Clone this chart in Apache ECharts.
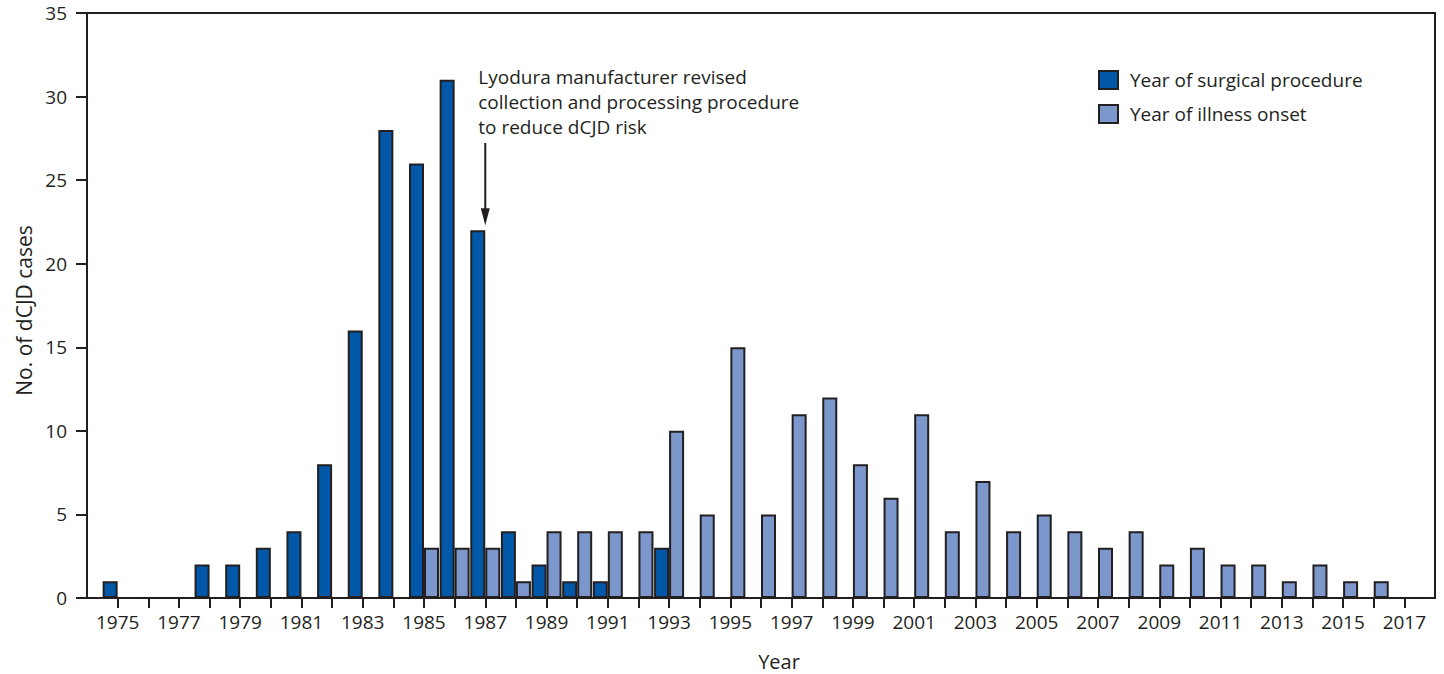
<!DOCTYPE html>
<html>
<head>
<meta charset="utf-8">
<script src="https://cdn.jsdelivr.net/npm/echarts@6/dist/echarts.min.js"></script>
<style>
html,body{margin:0;padding:0;background:#fff;}
#chart{width:1444px;height:674px;}
</style>
</head>
<body>
<div id="chart"></div>
<script>
const years = ['1974','1975','1976','1977','1978','1979','1980','1981','1982','1983','1984',
  '1985','1986','1987','1988','1989','1990','1991','1992','1993','1994','1995','1996','1997',
  '1998','1999','2000','2001','2002','2003','2004','2005','2006','2007','2008','2009','2010',
  '2011','2012','2013','2014','2015','2016','2017','2018'];
const surgicalCases = [0,1,0,0,2,2,3,4,8,16,28,26,31,22,4,2,1,1,0,3,
  0,0,0,0,0,0,0,0,0,0,0,0,0,0,0,0,0,0,0,0,0,0,0,0,0];
const onsetCases = [0,0,0,0,0,0,0,0,0,0,0,
  3,3,3,1,4,4,4,4,10,5,15,5,11,12,8,6,11,4,7,4,5,4,3,4,2,3,2,2,1,2,1,1,
  0,0];
const yTicks = [0,5,10,15,20,25,30,35];
const seriesNames = ['Year of surgical procedure','Year of illness onset'];
const annotationLines = ['Lyodura manufacturer revised','collection and processing procedure','to reduce dCJD risk'];
const annotationYear = '1987';

const INK = '#231f20';
const FONT = 'Open Sans';
const toBars = arr => arr.map(v => v === 0 ? null : v);

const chart = echarts.init(document.getElementById('chart'), null, {renderer:'svg'});
const option = {
  backgroundColor:'#ffffff',
  animation:false,
  textStyle:{fontFamily:FONT,color:INK},
  grid:{left:87,right:9,top:13,bottom:76,containLabel:false,outerBoundsMode:'none',
    show:true,borderColor:INK,borderWidth:2,backgroundColor:'transparent'},
  legend:{
    orient:'vertical',left:1098,top:70,padding:0,itemWidth:19,itemHeight:18,itemGap:14,
    icon:'rect',
    textStyle:{fontFamily:FONT,fontSize:19,color:INK,padding:[0,0,0,7]},
    data:seriesNames
  },
  xAxis:{
    type:'category',data:years,boundaryGap:false,
    axisLine:{lineStyle:{color:INK,width:2}},
    axisTick:{length:10,lineStyle:{color:INK,width:2},interval:(i)=> i>0 && i<years.length-1},
    axisLabel:{fontFamily:FONT,fontSize:19,color:INK,margin:14,
      interval:(i,v)=> Number(v)%2===1},
    splitLine:{show:false},
    name:'Year',nameLocation:'middle',nameGap:53,
    nameTextStyle:{fontFamily:FONT,fontSize:20,lineHeight:20,color:INK,padding:[0,0,0,36]}
  },
  yAxis:{
    type:'value',min:0,max:35,interval:5,
    axisLine:{show:true,lineStyle:{color:INK,width:2}},
    axisTick:{show:true,length:11,lineStyle:{color:INK,width:2}},
    axisLabel:{fontFamily:FONT,fontSize:19,color:INK,margin:20,
      formatter:(v)=> yTicks.indexOf(v)>=0 ? String(v) : ''},
    splitLine:{show:false},
    name:'No. of dCJD cases',nameLocation:'middle',nameGap:50,
    nameTextStyle:{fontFamily:FONT,fontSize:21,color:INK,padding:[0,10,0,0]}
  },
  series:[
    {name:seriesNames[0],type:'bar',data:toBars(surgicalCases),barWidth:15,barGap:'0%',
      itemStyle:{color:'#0158a8',borderColor:INK,borderWidth:2}},
    {name:seriesNames[1],type:'bar',data:toBars(onsetCases),barWidth:15,barGap:'0%',
      itemStyle:{color:'#7b97cc',borderColor:INK,borderWidth:2}}
  ]
};
chart.setOption(option);

const idx = years.indexOf(annotationYear);
const tip = chart.convertToPixel({xAxisIndex:0,yAxisIndex:0},[idx, surgicalCases[idx]]);
const ax = tip[0], tipY = tip[1] - 5;
chart.setOption({
  graphic:[
    {type:'text',left:ax-7,top:64,
      style:{text:annotationLines.join('\n'),font:'19px "Open Sans"',fill:INK,lineHeight:25}},
    {type:'line',shape:{x1:ax,y1:143,x2:ax,y2:tipY-10},style:{stroke:INK,lineWidth:2}},
    {type:'polygon',shape:{points:[[ax-4.5,tipY-17],[ax+4.5,tipY-17],[ax,tipY]]},style:{fill:INK}}
  ]
});
</script>
</body>
</html>
